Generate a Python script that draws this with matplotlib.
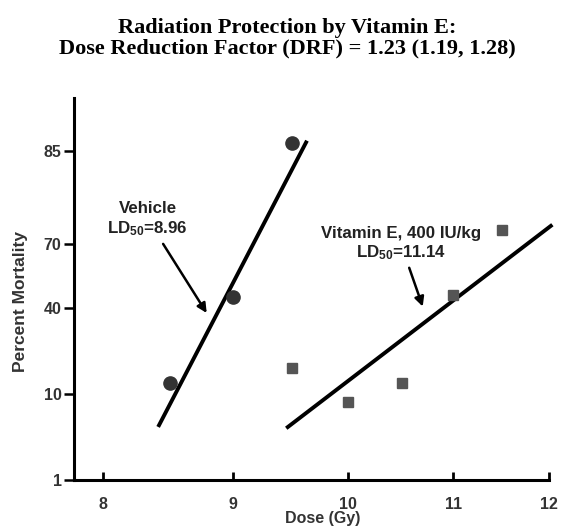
import numpy as np
import matplotlib
matplotlib.use('Agg')
import matplotlib.pyplot as plt
from matplotlib.ticker import FixedLocator, NullLocator
from statistics import NormalDist

# vehicle group: dose (Gy) vs percent mortality
veh_dose = [8.5, 9.0, 9.5]
veh_mort = [12.4, 45.5, 96.0]
# vitamin E 400 IU/kg group
vite_dose = [9.5, 10.0, 10.5, 11.0, 11.5]
vite_mort = [16.5, 8.3, 12.4, 46.5, 75.5]
# probit fit lines (end points)
veh_fit_dose = [8.41, 9.63]
veh_fit_mort = [4.6, 96.2]
vite_fit_dose = [9.45, 12.04]
vite_fit_mort = [4.45, 77.6]

x_ticks = [8, 9, 10, 11, 12]
y_ticks = [1, 10, 40, 70, 95]
y_ticklabels = ['1', '10', '40', '70', '85']

plt.rcParams['font.family'] = ['Liberation Sans', 'DejaVu Sans']
plt.rcParams['font.weight'] = 'bold'
plt.rcParams['mathtext.default'] = 'regular'

nd = NormalDist()
_inv = np.vectorize(lambda p: nd.inv_cdf(min(max(p / 100.0, 1e-9), 1 - 1e-9)), otypes=[float])
_cdf = np.vectorize(lambda z: nd.cdf(z) * 100.0, otypes=[float])

def probit(p):
    return _inv(np.asarray(p, dtype=float))

def unprobit(z):
    return _cdf(np.asarray(z, dtype=float))

fig = plt.figure(figsize=(5.75, 5.26), dpi=100)
ax = fig.add_axes([74/575, 1-480/526, (548.7-74)/575, (480-98)/526])

ax.set_xscale('log')
ax.set_yscale('function', functions=(probit, unprobit))

ax.plot(veh_fit_dose, veh_fit_mort, color='black', lw=2.8, solid_capstyle='butt', clip_on=False)
ax.plot(vite_fit_dose, vite_fit_mort, color='black', lw=2.8, solid_capstyle='butt', clip_on=False)
ax.plot(veh_dose, veh_mort, 'o', color='#333333', ms=9.5, clip_on=False)
ax.plot(vite_dose, vite_mort, 's', color='#555555', ms=7.5, clip_on=False)

ax.set_xlim(7.79, 12)
ax.set_ylim(1, 98.9)

ax.xaxis.set_major_locator(FixedLocator(x_ticks))
ax.xaxis.set_minor_locator(NullLocator())
ax.set_xticklabels([str(t) for t in x_ticks])
ax.yaxis.set_major_locator(FixedLocator(y_ticks))
ax.yaxis.set_minor_locator(NullLocator())
ax.set_yticklabels(y_ticklabels)

for s in ['top', 'right']:
    ax.spines[s].set_visible(False)
for s in ['left', 'bottom']:
    ax.spines[s].set_linewidth(2.2)

ax.tick_params(axis='x', direction='in', length=6, width=2, pad=12,
               labelsize=11.5, labelcolor='#333333')
ax.tick_params(axis='y', direction='out', length=7, width=1.8, pad=2,
               labelsize=11.5, labelcolor='#333333')

# annotations
ax.annotate('Vehicle\nLD$_{50}$=8.96', xy=(8.79, 37.9), xytext=(8.33, 79.5),
            ha='center', va='center', fontsize=12.2, color='#222222', linespacing=1.2,
            arrowprops=dict(arrowstyle='-|>', color='black', lw=1.8,
                            mutation_scale=14, shrinkA=3, shrinkB=0))
ax.annotate('Vitamin E, 400 IU/kg\nLD$_{50}$=11.14', xy=(10.70, 40.9), xytext=(10.49, 70.0),
            ha='center', va='center', fontsize=12.2, color='#222222', linespacing=1.2,
            arrowprops=dict(arrowstyle='-|>', color='black', lw=1.8,
                            mutation_scale=14, shrinkA=2, shrinkB=0))

fig.text(21/575, 1-302/526, 'Percent Mortality', rotation=90, ha='center', va='center',
         fontsize=12.5, color='#333333')
fig.text(323/575, 1-511/526, 'Dose (Gy)', ha='center', va='top',
         fontsize=11.5, color='#333333')

fig.text(0.5, 1-18/526, 'Radiation Protection by Vitamin E:\nDose Reduction Factor (DRF) = 1.23 (1.19, 1.28)',
         ha='center', va='top', family='Liberation Serif', fontweight='bold',
         fontsize=16, linespacing=1.0)

fig.savefig('out.png', dpi=100)
